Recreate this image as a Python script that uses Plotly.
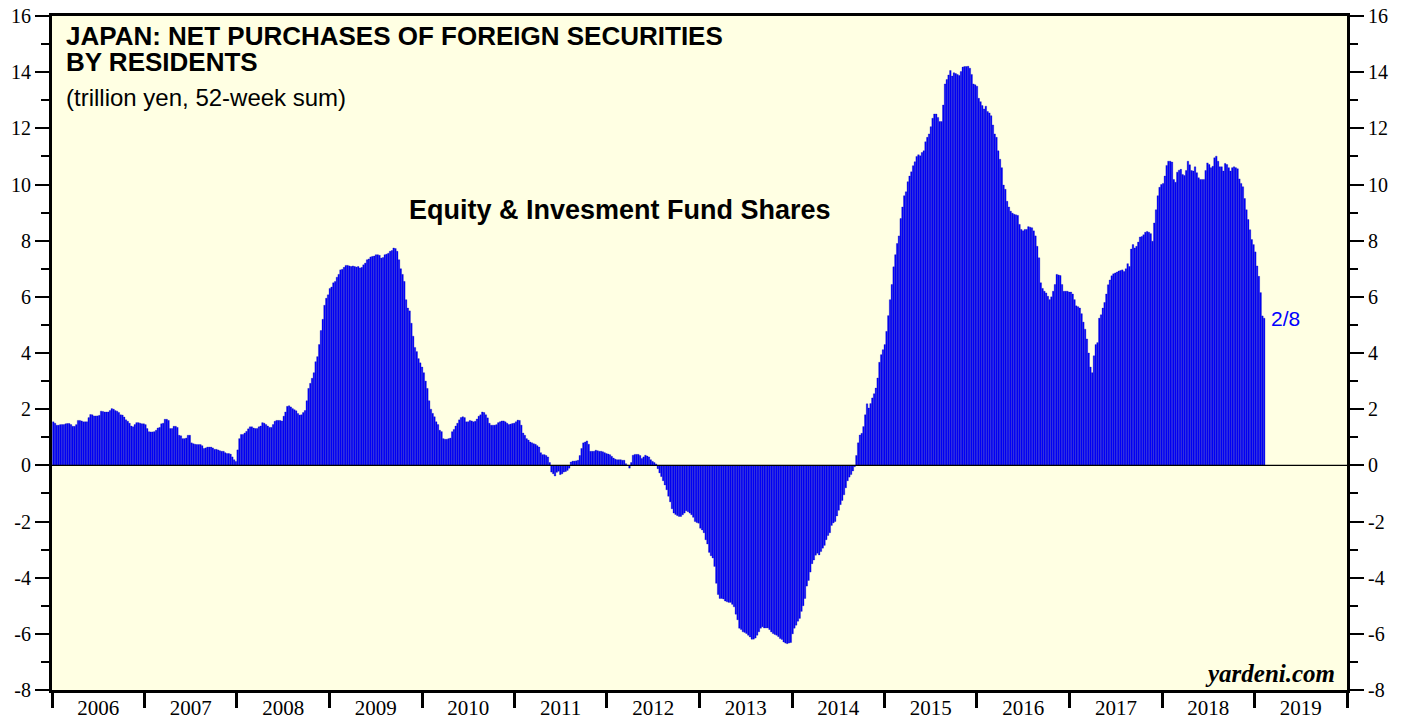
import pandas as pd
import plotly.graph_objects as go

# Weekly 52-week sums (trillion yen), one list per year
y2006 = [1.55, 1.5, 1.43, 1.43, 1.45, 1.45, 1.45, 1.48, 1.49, 1.49, 1.45, 1.39, 1.39, 1.45,
         1.6, 1.6, 1.58, 1.55, 1.55, 1.55, 1.7, 1.81, 1.8, 1.76, 1.76, 1.76, 1.78, 1.93, 1.92,
         1.9, 1.9, 1.9, 1.95, 2.02, 2.0, 1.95, 1.93, 1.88, 1.8, 1.79, 1.72, 1.62, 1.57, 1.5,
         1.4, 1.37, 1.45, 1.52, 1.52, 1.5, 1.48, 1.48]
y2007 = [1.45, 1.31, 1.2, 1.19, 1.19, 1.2, 1.25, 1.33, 1.35, 1.48, 1.5, 1.64, 1.64, 1.6,
         1.31, 1.31, 1.39, 1.39, 1.35, 1.07, 1.05, 0.95, 0.95, 0.97, 1.07, 1.07, 0.8, 0.77,
         0.75, 0.74, 0.74, 0.74, 0.7, 0.6, 0.62, 0.65, 0.65, 0.65, 0.62, 0.57, 0.57, 0.55,
         0.52, 0.5, 0.5, 0.45, 0.42, 0.42, 0.4, 0.3, 0.2, 0.14]
y2008 = [0.55, 0.95, 1.1, 1.1, 1.15, 1.21, 1.3, 1.37, 1.37, 1.33, 1.31, 1.31, 1.37, 1.4,
         1.52, 1.5, 1.45, 1.4, 1.35, 1.35, 1.45, 1.57, 1.6, 1.6, 1.6, 1.58, 1.75, 1.9, 2.1,
         2.12, 2.08, 2.02, 1.98, 1.94, 1.85, 1.79, 1.8, 1.88, 1.95, 2.3, 2.74, 2.92, 3.1, 3.3,
         3.69, 3.87, 4.3, 4.8, 5.2, 5.7, 5.95, 6.07]
y2009 = [6.3, 6.35, 6.5, 6.55, 6.7, 6.8, 6.96, 6.98, 7.05, 7.12, 7.12, 7.1, 7.08, 7.1, 7.08,
         7.06, 7.08, 7.03, 7.05, 7.14, 7.2, 7.32, 7.35, 7.42, 7.44, 7.45, 7.5, 7.5, 7.48, 7.38,
         7.4, 7.5, 7.52, 7.55, 7.62, 7.65, 7.74, 7.72, 7.62, 7.32, 7.0, 6.8, 6.55, 5.9, 5.6,
         5.5, 5.06, 4.6, 4.2, 4.05, 3.8, 3.65]
y2010 = [3.5, 3.3, 3.0, 2.74, 2.3, 2.0, 1.85, 1.73, 1.55, 1.45, 1.25, 1.2, 0.95, 0.93, 0.93,
         0.95, 0.97, 1.2, 1.28, 1.4, 1.5, 1.62, 1.7, 1.73, 1.7, 1.55, 1.55, 1.6, 1.58, 1.55,
         1.57, 1.65, 1.75, 1.8, 1.9, 1.88, 1.8, 1.69, 1.5, 1.43, 1.43, 1.43, 1.45, 1.52, 1.55,
         1.58, 1.58, 1.55, 1.5, 1.45, 1.47, 1.49, 1.5]
y2011 = [1.55, 1.61, 1.6, 1.43, 1.15, 1.07, 0.95, 0.9, 0.83, 0.8, 0.77, 0.75, 0.7, 0.65,
         0.45, 0.38, 0.38, 0.35, 0.3, 0.1, -0.24, -0.3, -0.38, -0.25, -0.21, -0.33, -0.3,
         -0.24, -0.22, -0.18, -0.1, 0.12, 0.15, 0.15, 0.16, 0.18, 0.35, 0.6, 0.8, 0.83, 0.87,
         0.75, 0.5, 0.5, 0.5, 0.54, 0.52, 0.5, 0.5, 0.48, 0.45, 0.42]
y2012 = [0.4, 0.38, 0.32, 0.26, 0.22, 0.2, 0.2, 0.2, 0.18, 0.18, 0.06, 0.0, -0.1, 0.1, 0.36,
         0.39, 0.39, 0.39, 0.35, 0.24, 0.3, 0.36, 0.33, 0.3, 0.2, 0.14, 0.1, 0.05, -0.12,
         -0.27, -0.4, -0.55, -0.7, -0.87, -1.1, -1.3, -1.55, -1.7, -1.75, -1.79, -1.82, -1.82,
         -1.76, -1.7, -1.62, -1.65, -1.7, -1.76, -1.85, -2.0, -2.04, -2.06]
y2013 = [-2.24, -2.3, -2.4, -2.65, -2.8, -3.1, -3.22, -3.3, -3.6, -4.2, -4.6, -4.74, -4.74,
         -4.76, -4.83, -4.86, -4.88, -4.88, -4.95, -5.04, -5.3, -5.5, -5.8, -5.85, -5.93,
         -5.95, -5.99, -6.05, -6.11, -6.19, -6.19, -6.15, -6.05, -5.93, -5.8, -5.75, -5.79,
         -5.79, -5.79, -5.85, -5.93, -5.99, -6.02, -6.05, -6.1, -6.17, -6.2, -6.29, -6.33,
         -6.35, -6.33, -6.31]
y2014 = [-6.0, -5.8, -5.69, -5.55, -5.45, -5.2, -5.0, -4.74, -4.3, -4.1, -3.8, -3.5, -3.37,
         -3.2, -3.13, -3.19, -3.07, -2.95, -2.85, -2.65, -2.5, -2.4, -2.14, -2.05, -2.0, -1.8,
         -1.6, -1.4, -1.25, -1.05, -0.8, -0.55, -0.42, -0.33, -0.2, -0.05, 0.35, 0.8, 1.08,
         1.14, 1.38, 1.8, 2.19, 2.04, 2.2, 2.4, 2.55, 2.75, 3.11, 3.67, 3.94, 4.12]
y2015 = [4.3, 4.77, 5.33, 5.9, 6.44, 7.07, 7.5, 7.9, 8.17, 8.79, 9.2, 9.6, 9.74, 10.1, 10.3,
         10.45, 10.67, 10.81, 11.0, 11.06, 11.02, 11.14, 11.2, 11.52, 11.68, 11.8, 12.06,
         12.36, 12.51, 12.51, 12.39, 12.24, 12.24, 12.83, 13.58, 13.74, 13.9, 14.06, 13.86,
         13.98, 13.95, 13.92, 13.88, 14.02, 14.18, 14.2, 14.2, 14.21, 14.14, 13.92, 13.58,
         13.55]
y2016 = [13.5, 13.07, 12.95, 12.81, 12.69, 12.79, 12.6, 12.55, 12.45, 12.12, 11.8, 11.68,
         11.2, 10.9, 10.6, 9.98, 9.83, 9.4, 9.2, 9.05, 8.98, 8.94, 8.92, 8.9, 8.58, 8.4, 8.35,
         8.4, 8.4, 8.5, 8.48, 8.46, 8.35, 8.17, 7.8, 7.39, 6.5, 6.3, 6.2, 6.14, 6.02, 5.9, 6.0,
         6.2, 6.44, 6.8, 6.78, 6.76, 6.44, 6.2, 6.2, 6.2, 6.17]
y2017 = [6.17, 6.1, 5.9, 5.68, 5.65, 5.6, 5.4, 5.1, 4.85, 4.5, 4.0, 3.5, 3.3, 3.9, 4.3, 4.37,
         5.24, 5.36, 5.6, 5.8, 6.1, 6.43, 6.6, 6.75, 6.82, 6.85, 6.88, 6.92, 6.94, 6.96, 6.9,
         7.0, 7.18, 7.08, 7.7, 7.86, 7.74, 7.8, 7.95, 8.13, 8.15, 8.21, 8.3, 8.33, 8.3, 8.25,
         7.98, 8.63, 9.1, 9.6, 9.9, 10.0]
y2018 = [10.04, 10.3, 10.68, 10.83, 10.83, 10.8, 10.18, 10.08, 10.44, 10.51, 10.54, 10.36,
         10.32, 10.5, 10.83, 10.7, 10.5, 10.48, 10.63, 10.42, 10.24, 10.18, 10.18, 10.18, 10.5,
         10.77, 10.71, 10.6, 10.65, 10.95, 11.01, 10.83, 10.63, 10.63, 10.48, 10.75, 10.71,
         10.6, 10.48, 10.6, 10.63, 10.6, 10.56, 10.2, 10.04, 9.92, 9.5, 9.1, 8.75, 8.39, 8.04,
         7.86]
y2019 = [7.6, 7.1, 6.73, 6.15, 5.32, 5.24]

values = (y2006 + y2007 + y2008 + y2009 + y2010 + y2011 + y2012 + y2013 + y2014 + y2015
          + y2016 + y2017 + y2018 + y2019)
last_date = "2019-02-08"
dates = pd.date_range(end=last_date, periods=len(values), freq="7D")

y_tick_vals = [-8, -6, -4, -2, 0, 2, 4, 6, 8, 10, 12, 14, 16]
y_tick_text = ["-8", "-6", "-4", "-2", "0", "2", "4", "6", "8", "10", "12", "14", "16"]

title_line1 = "JAPAN: NET PURCHASES OF FOREIGN SECURITIES"
title_line2 = "BY RESIDENTS"
subtitle = "(trillion yen, 52-week sum)"
series_label = "Equity & Invesment Fund Shares"
last_label = "2/8"
source = "yardeni.com"

SANS = "Liberation Sans, Arial, sans-serif"
SERIF = "Liberation Serif, Times New Roman, serif"

fig = go.Figure()
fig.add_trace(go.Bar(
    x=dates, y=values,
    marker=dict(color="#0000FF", line=dict(color="#0000B4", width=0.3)),
    hoverinfo="x+y", showlegend=False,
))
# invisible trace so the right-hand axis is drawn
fig.add_trace(go.Scatter(x=[dates[0]], y=[0], yaxis="y2", mode="markers",
                         marker=dict(opacity=0), hoverinfo="skip", showlegend=False))

yax = dict(
    range=[-8, 16], tickmode="array", tickvals=y_tick_vals, ticktext=y_tick_text,
    ticks="outside", ticklen=14, tickwidth=1.5,
    tickcolor="black", showgrid=False, zeroline=False, automargin=False,
    tickfont=dict(family=SERIF, size=20, color="black"),
    minor=dict(dtick=1, tick0=0, ticks="outside", ticklen=8, tickwidth=1.5,
               tickcolor="black"),
    showline=True, linewidth=3, linecolor="black", fixedrange=True,
)

fig.update_layout(
    width=1407, height=719, autosize=False,
    margin=dict(l=52, r=60, t=16, b=29, autoexpand=False),
    paper_bgcolor="white", plot_bgcolor="#FFFFE3",
    bargap=0.12, showlegend=False,
    xaxis=dict(
        type="date", range=["2006-01-01", "2020-01-01"],
        dtick="M12", tick0="2006-01-01", tickformat="%Y", ticklabelmode="period",
        ticks="outside", ticklen=15, tickwidth=3, tickcolor="black",
        ticklabelstandoff=-18, automargin=False,
        tickfont=dict(family=SERIF, size=21, color="black"),
        showline=True, linewidth=3, linecolor="black", mirror=True,
        showgrid=False, zeroline=False, fixedrange=True,
    ),
    yaxis=dict(**yax, side="left"),
    yaxis2=dict(**yax, side="right", overlaying="y", anchor="x"),
    shapes=[dict(type="line", xref="paper", x0=0, x1=1, yref="y", y0=0, y1=0,
                 line=dict(color="black", width=1.3), layer="above")],
    annotations=[
        dict(text="<b>" + title_line1 + "</b>", xref="paper", yref="paper",
             x=0.0095, y=0.9956, xanchor="left", yanchor="top", showarrow=False,
             font=dict(family=SANS, size=26, color="black")),
        dict(text="<b>" + title_line2 + "</b>", xref="paper", yref="paper",
             x=0.0095, y=0.957, xanchor="left", yanchor="top", showarrow=False,
             font=dict(family=SANS, size=26, color="black")),
        dict(text=subtitle, xref="paper", yref="paper",
             x=0.0095, y=0.902, xanchor="left", yanchor="top", showarrow=False,
             font=dict(family=SANS, size=24, color="black")),
        dict(text="<b>" + series_label + "</b>", xref="paper", yref="paper",
             x=0.4386, y=0.712, xanchor="center", yanchor="middle", showarrow=False,
             font=dict(family=SANS, size=27, color="black")),
        dict(text=last_label, xref="x", yref="y", x=last_date, y=values[-1],
             xanchor="left", yanchor="middle", xshift=5, showarrow=False,
             font=dict(family=SANS, size=21, color="#0000FF")),
        dict(text="<b><i>" + source + "</i></b>", xref="paper", yref="paper",
             x=0.9923, y=0.0252, xanchor="right", yanchor="middle", showarrow=False,
             font=dict(family=SERIF, size=25, color="black")),
    ],
)

fig.write_html("out.html", config={"displayModeBar": False},
               post_script="document.body.style.margin='0';")
